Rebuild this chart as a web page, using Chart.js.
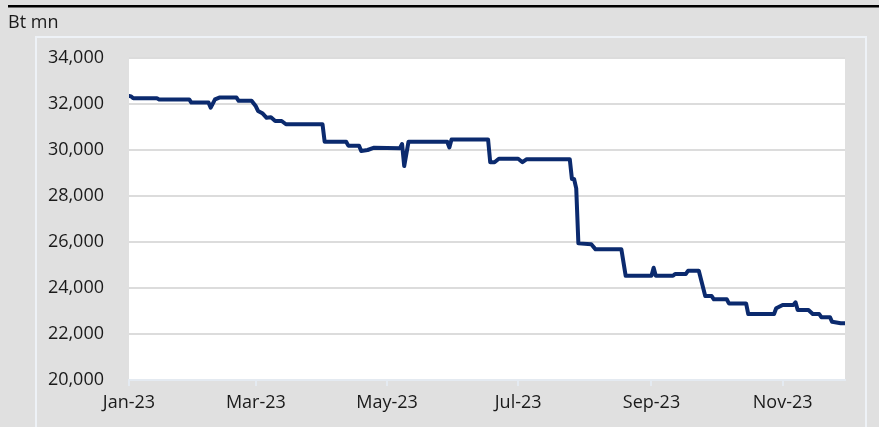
<!DOCTYPE html>
<html lang="en">
<head>
    <meta charset="UTF-8">
    <title>Bt mn</title>
    <script src="https://cdn.jsdelivr.net/npm/chart.js"></script>
    <style>
        body { margin: 0; background: #e0e0e0; }
        #wrap { width: 879px; height: 427px; }
    </style>
</head>
<body>
    <div id="wrap"><canvas id="lineChart" width="879" height="427"></canvas></div>

    <script>
        const unitLabel = 'Bt mn';

        const dates = [
            '2023-01-01', '2023-01-02', '2023-01-03', '2023-01-14', '2023-01-15', '2023-01-29',
            '2023-01-30', '2023-02-07', '2023-02-08', '2023-02-10', '2023-02-12', '2023-02-20',
            '2023-02-21', '2023-02-27', '2023-03-01', '2023-03-02', '2023-03-04', '2023-03-06',
            '2023-03-08', '2023-03-10', '2023-03-13', '2023-03-15', '2023-04-01', '2023-04-02',
            '2023-04-12', '2023-04-13', '2023-04-18', '2023-04-19', '2023-04-22', '2023-04-25',
            '2023-05-07', '2023-05-08', '2023-05-09', '2023-05-11', '2023-05-29', '2023-05-30',
            '2023-05-31', '2023-06-17', '2023-06-18', '2023-06-20', '2023-06-22', '2023-07-01',
            '2023-07-03', '2023-07-05', '2023-07-25', '2023-07-26', '2023-07-27', '2023-07-28',
            '2023-07-29', '2023-08-04', '2023-08-06', '2023-08-18', '2023-08-20', '2023-09-01',
            '2023-09-02', '2023-09-03', '2023-09-11', '2023-09-12', '2023-09-17', '2023-09-18',
            '2023-09-23', '2023-09-26', '2023-09-29', '2023-09-30', '2023-10-06', '2023-10-07',
            '2023-10-15', '2023-10-16', '2023-10-28', '2023-10-29', '2023-11-01', '2023-11-06',
            '2023-11-07', '2023-11-08', '2023-11-13', '2023-11-15', '2023-11-18', '2023-11-19',
            '2023-11-23', '2023-11-24', '2023-11-28', '2023-11-30'
        ];

        const values = [
            32350, 32330, 32250, 32250, 32200, 32200,
            32060, 32060, 31840, 32200, 32280, 32280,
            32140, 32140, 31900, 31700, 31600, 31400,
            31420, 31260, 31260, 31120, 31120, 30360,
            30360, 30190, 30190, 29960, 30000, 30100,
            30080, 30260, 29300, 30360, 30360, 30110,
            30460, 30460, 29470, 29470, 29620, 29620,
            29470, 29600, 29600, 28740, 28740, 28330,
            25940, 25900, 25680, 25680, 24530, 24530,
            24880, 24530, 24530, 24610, 24610, 24750,
            24750, 23650, 23650, 23510, 23510, 23330,
            23330, 22870, 22870, 23120, 23260, 23260,
            23380, 23040, 23040, 22870, 22870, 22730,
            22730, 22530, 22470, 22470
        ];

        const tickDates = ['2023-01-01', '2023-03-01', '2023-05-01', '2023-07-01', '2023-09-01', '2023-11-01'];
        const tickLabels = ['Jan-23', 'Mar-23', 'May-23', 'Jul-23', 'Sep-23', 'Nov-23'];
        const yMin = 20000, yMax = 34000, yStep = 2000;
        const xEnd = '2023-11-30';

        // days since 1 Jan 2023
        function dayOf(s) {
            const p = s.split('-').map(Number);
            return (Date.UTC(p[0], p[1] - 1, p[2]) - Date.UTC(2023, 0, 1)) / 86400000;
        }

        const points = dates.map((d, i) => ({ x: dayOf(d), y: values[i] }));
        const tickDays = tickDates.map(dayOf);

        const frame = {
            id: 'frame',
            beforeDraw(chart) {
                const c = chart.ctx, a = chart.chartArea;
                c.save();
                c.fillStyle = '#ffffff';
                c.fillRect(a.left, a.top, a.right - a.left, a.bottom - a.top);
                c.strokeStyle = '#eef2f7';
                c.lineWidth = 2;
                c.strokeRect(36, 37, 830, 420);
                c.fillStyle = '#000000';
                c.fillRect(8, 5, 871, 2.5);
                c.fillStyle = '#1a1a1a';
                c.font = '18px "Open Sans"';
                c.textBaseline = 'alphabetic';
                c.fillText(unitLabel, 8, 28);
                c.restore();
            }
        };

        new Chart(document.getElementById('lineChart'), {
            type: 'line',
            data: {
                datasets: [{
                    data: points,
                    borderColor: '#0b2a6e',
                    borderWidth: 4,
                    borderJoinStyle: 'round',
                    borderCapStyle: 'round',
                    pointRadius: 0,
                    tension: 0,
                    fill: false
                }]
            },
            options: {
                responsive: false,
                animation: false,
                layout: { padding: { top: 58, right: 34, left: 0, bottom: 0 } },
                plugins: { legend: { display: false }, tooltip: { enabled: false } },
                scales: {
                    x: {
                        type: 'linear',
                        min: 0,
                        max: dayOf(xEnd),
                        afterBuildTicks: s => { s.ticks = tickDays.map(v => ({ value: v })); },
                        afterFit: s => { s.height = 47; },
                        ticks: {
                            autoSkip: false,
                            maxRotation: 0,
                            padding: 6,
                            color: '#1a1a1a',
                            font: { family: '"Open Sans"', size: 18 },
                            callback: v => tickLabels[tickDays.indexOf(v)]
                        },
                        grid: { drawOnChartArea: false, color: '#e4eaf1', lineWidth: 2, tickLength: 6 },
                        border: { color: '#e4eaf1', width: 2 }
                    },
                    y: {
                        min: yMin,
                        max: yMax,
                        afterFit: s => { s.width = 129; },
                        ticks: {
                            stepSize: yStep,
                            padding: 25,
                            color: '#1a1a1a',
                            font: { family: '"Open Sans"', size: 18 },
                            callback: v => v.toLocaleString('en-US')
                        },
                        grid: { color: '#dcdcdc', lineWidth: 2, drawTicks: false },
                        border: { display: false }
                    }
                }
            },
            plugins: [frame]
        });
    </script>
</body>
</html>
